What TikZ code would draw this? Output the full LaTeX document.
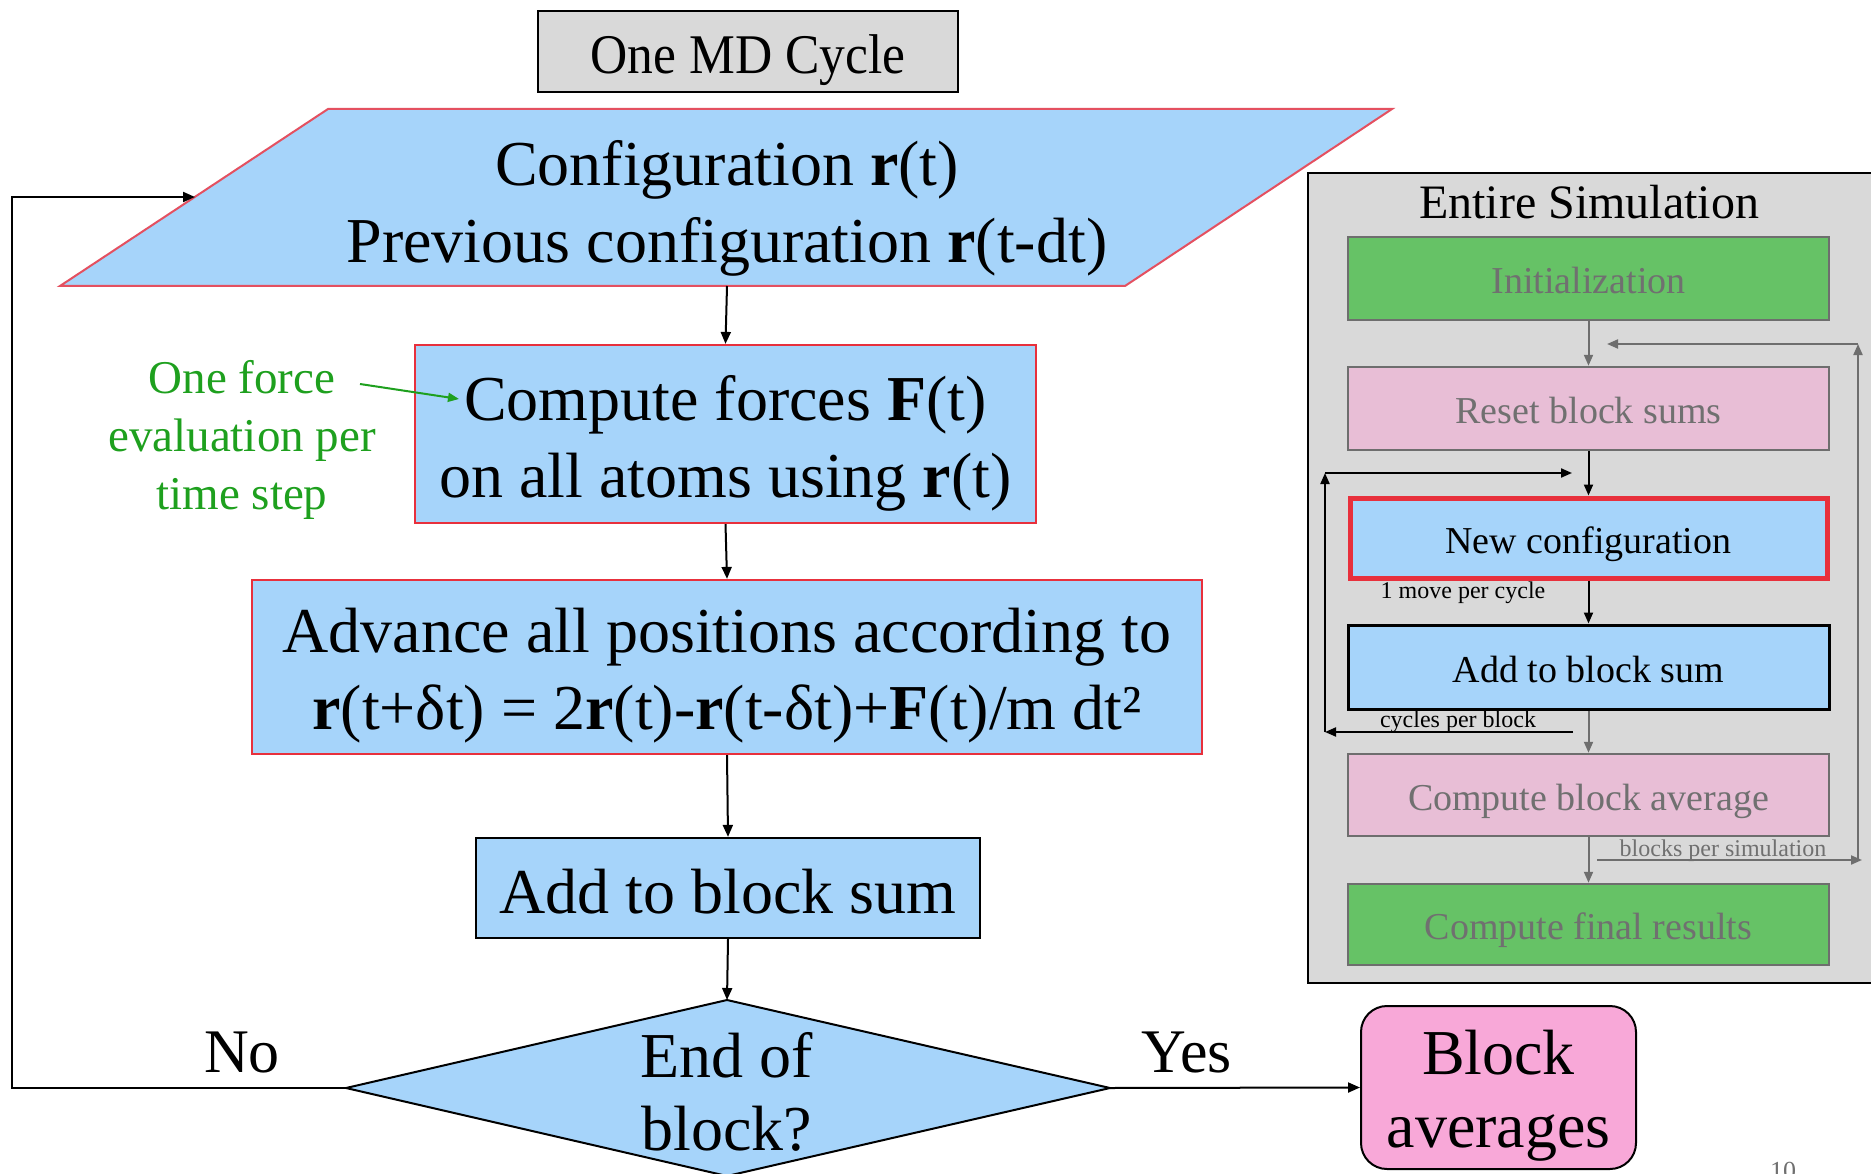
\documentclass[tikz,border=0pt]{standalone}
\usepackage{fontspec}
\setmainfont{Liberation Serif}
\usetikzlibrary{arrows.meta}
\definecolor{mdblue}{RGB}{166,212,250}
\definecolor{mdred}{RGB}{232,48,60}
\definecolor{cfgred}{RGB}{228,80,96}
\definecolor{mdpink}{RGB}{248,168,216}
\definecolor{palepink}{RGB}{232,190,214}
\definecolor{simgreen}{RGB}{102,194,102}
\definecolor{panelgray}{RGB}{217,217,217}
\definecolor{txtgray}{RGB}{112,112,112}
\definecolor{boxgray}{RGB}{110,110,110}
\definecolor{lblgreen}{RGB}{30,160,30}
\tikzset{
  flow/.style={-{Triangle[length=12pt,width=10pt]}, line width=2pt},
  smallflow/.style={-{Triangle[length=11pt,width=9pt]}, line width=2pt},
  grayflow/.style={-{Triangle[length=11pt,width=9pt]}, line width=2pt, draw=boxgray},
  mainbox/.style={draw=mdred, fill=mdblue, line width=2.2pt, inner sep=0pt},
  bigtext/.style={inner sep=0pt, align=center, font=\fontsize{64}{77}\selectfont},
  simbox/.style={draw=boxgray, line width=2.5pt, minimum width=481pt, inner sep=0pt,
    text height=30pt, text depth=0pt,
    font=\fontsize{38}{44}\selectfont, text=txtgray},
  smalllbl/.style={inner sep=0pt, font=\fontsize{24}{28}\selectfont},
}
\begin{document}
\begin{tikzpicture}[x=1pt,y=-1pt]
\useasboundingbox (0,0) rectangle (1871,1174);
\fill[white] (0,0) rectangle (1871,1174);

% title
\node[draw=black, fill=panelgray, line width=2.5pt, minimum width=420pt, minimum height=81pt,
  inner sep=0pt] (title) at (748,51.5) {};
\node[inner sep=0pt, font=\fontsize{56}{60}\selectfont] (titletxt) at (748,60) {\scalebox{0.92}[1]{One MD Cycle}};

% configuration parallelogram
\coordinate (cfgTL) at (328,109);
\coordinate (cfgTR) at (1392,109);
\coordinate (cfgBR) at (1125,286);
\coordinate (cfgBL) at (60,286);
\fill[mdblue] (cfgTL) -- (cfgTR) -- (cfgBR) -- (cfgBL) -- cycle;
\draw[cfgred, line width=2pt] (cfgTL) -- (cfgTR) -- (cfgBR) -- (cfgBL) -- cycle;
\node[bigtext] (cfg) at (727,208)
  {Configuration \textbf{r}(t)\\Previous configuration \textbf{r}(t-dt)};
\coordinate (cfgB) at (727,286);
\coordinate (cfgL) at (195,197);

% compute forces
\node[mainbox, minimum width=621pt, minimum height=178pt] (force) at (725.5,434) {};
\node[bigtext] (forcetxt) at ([yshift=-9pt]force.center)
  {Compute forces \textbf{F}(t)\\on all atoms using \textbf{r}(t)};

% green note
\node[inner sep=0pt, align=center, text=lblgreen, font=\fontsize{47}{58}\selectfont] (note) at (242,440)
  {One force\\evaluation per\\time step};
\coordinate (noteA) at (360,384);
\coordinate (noteB) at (459,399);
\draw[-{Triangle[length=11pt,width=9pt]}, line width=2pt, lblgreen] (noteA) -- (noteB);

% advance
\node[mainbox, minimum width=950pt, minimum height=174pt] (adv) at (727,667) {};
\node[bigtext] (advtxt) at ([yshift=-9pt]adv.center)
  {Advance all positions according to\\\textbf{r}(t+δt) = 2\textbf{r}(t)-\textbf{r}(t-δt)+\textbf{F}(t)/m dt²};

% add to block sum
\node[mainbox, draw=black, minimum width=504pt, minimum height=100pt] (add) at (728,888) {};
\node[bigtext] (addtxt) at ([yshift=-4pt]add.center) {Add to block sum};

% diamond
\coordinate (dT) at (727,1000);
\coordinate (dL) at (346,1088);
\coordinate (dR) at (1110,1088);
\coordinate (dB) at (727,1176);
\filldraw[fill=mdblue, draw=black, line width=2pt] (dT) -- (dR) -- (dB) -- (dL) -- cycle;
\node[inner sep=0pt, align=center, font=\fontsize{64}{73}\selectfont] (dia) at (727,1092)
  {End of\\block?};

% block averages
\node[draw=black, fill=mdpink, line width=2pt, rounded corners=26pt, minimum width=275pt,
  minimum height=163pt, inner sep=0pt] (bavg) at (1498.5,1087.5) {};
\node[inner sep=0pt, align=center, font=\fontsize{64}{73}\selectfont] (bavgtxt) at (1498.5,1096)
  {Block\\averages};

% labels
\node[inner sep=0pt, font=\fontsize{62}{70}\selectfont] (no) at (242,1052) {No};
\node[inner sep=0pt, font=\fontsize{62}{70}\selectfont] (yes) at (1187,1052) {Yes};

% connectors
\draw[flow] (cfgB) -- (force.north);
\draw[flow] (force.south) -- (adv.north);
\draw[flow] (adv.south) -- (add.north);
\draw[flow] (add.south) -- (dT);
\coordinate (loopA) at (12,1088);
\coordinate (loopB) at (12,197);
\draw[flow] (dL) -- (loopA) -- (loopB) -- (cfgL);
\draw[flow] (dR) -- (bavg.west);

% ---------- right panel ----------
\filldraw[fill=panelgray, draw=black, line width=2.5pt] (1308,173) rectangle (1885,983);
\node[inner sep=0pt, font=\fontsize{48}{54}\selectfont] (simtitle) at (1589,202) {Entire Simulation};

\node[simbox, fill=simgreen, minimum height=83pt] (init) at (1588.5,278.5) {Initialization};
\node[simbox, fill=palepink, minimum height=83pt] (reset) at (1588.5,408.5) {Reset block sums};
\node[simbox, fill=mdblue, draw=mdred, line width=5pt, text=black, minimum width=477pt, minimum height=80pt] (newc) at (1588.5,538) {New configuration};
\node[simbox, fill=mdblue, draw=black, line width=3pt, text=black, minimum height=84pt] (add2) at (1588.5,667) {Add to block sum};
\node[simbox, fill=palepink, minimum height=82pt] (cavg) at (1588.5,795) {Compute block average};
\node[simbox, fill=simgreen, minimum height=81pt] (final) at (1588.5,924.5) {Compute final results};

\draw[grayflow] (init.south) -- (reset.north);
\draw[smallflow] (reset.south) -- (newc.north);
\draw[smallflow] (newc.south) -- (add2.north);
\draw[grayflow] (add2.south) -- (cavg.north);
\draw[grayflow] (cavg.south) -- (final.north);

% inner loop (cycles per block)
\coordinate (cpbR) at (1573,732);
\coordinate (cpbL) at (1325,732);
\coordinate (cpbT) at (1325,473);
\coordinate (cpbE) at (1572,473);
\draw[smallflow] (cpbR) -- (cpbL);
\draw[smallflow] (cpbL) -- (cpbT);
\draw[smallflow] (cpbT) -- (cpbE);
\node[smalllbl] (cpb) at (1458,722) {cycles per block};
\node[smalllbl] (mpc) at (1463,593) {1 move per cycle};

% outer loop (blocks per simulation)
\coordinate (bpsL) at (1597,860);
\coordinate (bpsR) at (1862,860);
\coordinate (bpsT) at (1858,344);
\coordinate (bpsE) at (1607,344);
\draw[grayflow] (bpsL) -- (bpsR);
\draw[grayflow] (1858,860) -- (bpsT);
\draw[grayflow] (bpsT) -- (bpsE);
\node[smalllbl, text=txtgray] (bps) at (1723,851) {blocks per simulation};

% slide number
\node[inner sep=0pt, text=txtgray, font=\fontsize{26}{30}\selectfont, anchor=north] (pg) at (1783,1162) {10};
\end{tikzpicture}
\end{document}
